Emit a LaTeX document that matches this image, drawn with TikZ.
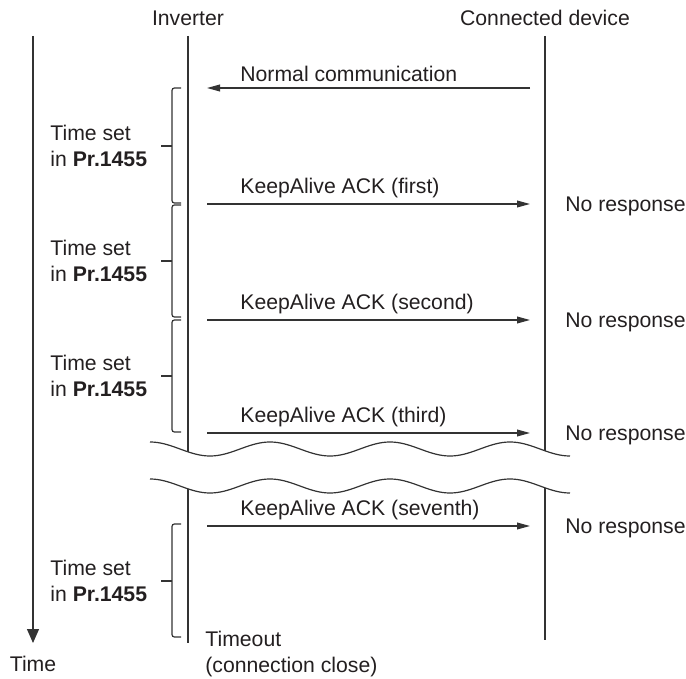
\documentclass[tikz,border=0pt]{standalone}
\usepackage{fontspec}
\setmainfont{Liberation Sans}
\usepackage{xcolor}
\usepackage{tikz}
\usetikzlibrary{arrows.meta,positioning}
\definecolor{ink}{HTML}{333333}
\definecolor{txt}{HTML}{231F20}

\begin{document}
\begin{tikzpicture}[x=0.5pt,y=-0.5pt, every node/.style={font=\fontsize{10.6}{13.2}\selectfont,text=txt,inner sep=0pt},
life/.style={draw=ink,line width=0.65pt},
msg/.style={-{Triangle[length=6.5pt,width=3.4pt]},line width=0.6pt,draw=ink},
timeax/.style={-{Triangle[length=7pt,width=6pt]},line width=0.65pt,draw=ink},
brace/.style={draw=ink,line width=0.6pt,rounded corners=1.2pt},
wave/.style={draw=ink,line width=0.6pt},
lbl/.style={anchor=west,align=left}]
\useasboundingbox (0,0) rectangle (686,679);
\node (inv) at (188,18) {Inverter};
\node (dev) at (545,18) {Connected device};
% lifelines, broken between the waves
\coordinate (invtop) at (188,36);\coordinate (invcut) at (188,452);
\coordinate (invres) at (188,489);\coordinate (invend) at (188,643);
\coordinate (devtop) at (545,36);\coordinate (devcut) at (545,451);
\coordinate (devres) at (545,488);\coordinate (devend) at (545,640);
\draw[life] (invtop)--(invcut);\draw[life](invres)--(invend);
\draw[life] (devtop)--(devcut);\draw[life](devres)--(devend);
% time axis
\coordinate (ttop) at (33,36);\coordinate (tend) at (33,643);
\draw[timeax] (ttop)--(tend);
\node (time) at (33,664) {Time};
% waves
\draw[wave] plot[domain=150:570,samples=120] (\x,{449-7*cos(3*(\x-150))});
\draw[wave] plot[domain=150:570,samples=120] (\x,{486-7*cos(3*(\x-150))});
% normal communication
\coordinate (ndev) at (530,88);\coordinate (ninv) at (207,88);
\draw[msg] (ndev)--(ninv);
\node[lbl] (normal) at (240,74) {Normal communication};
% keepalive messages
\foreach \y/\nth/\nm in {204/first/a,320/second/b,433/third/c,526/seventh/d}{
  \coordinate (s\nm) at (207,\y);\coordinate (e\nm) at (530,\y);
  \draw[msg] (s\nm)--(e\nm);
  \node[lbl] (k\nm) at (240,{\y-16}) {KeepAlive ACK (\nth)};
  \node[lbl] (n\nm) at (565,{\y+2}) {No response};
}
% time set brackets
\foreach \t/\m/\b/\nm in {88/146/203/a,205/261/317/b,320/376/432/c,524/581/637/d}{
  \draw[brace] (181,\t)--(172,\t)--(172,\b)--(181,\b);
  \draw[brace] (161,\m)--(172,\m);
  \node[lbl] (ts\nm) at (50,\m) {Time set\\in \textbf{Pr.1455}};
}
\node[lbl] (timeout) at (205,654) {Timeout\\(connection close)};
\end{tikzpicture}
\end{document}
